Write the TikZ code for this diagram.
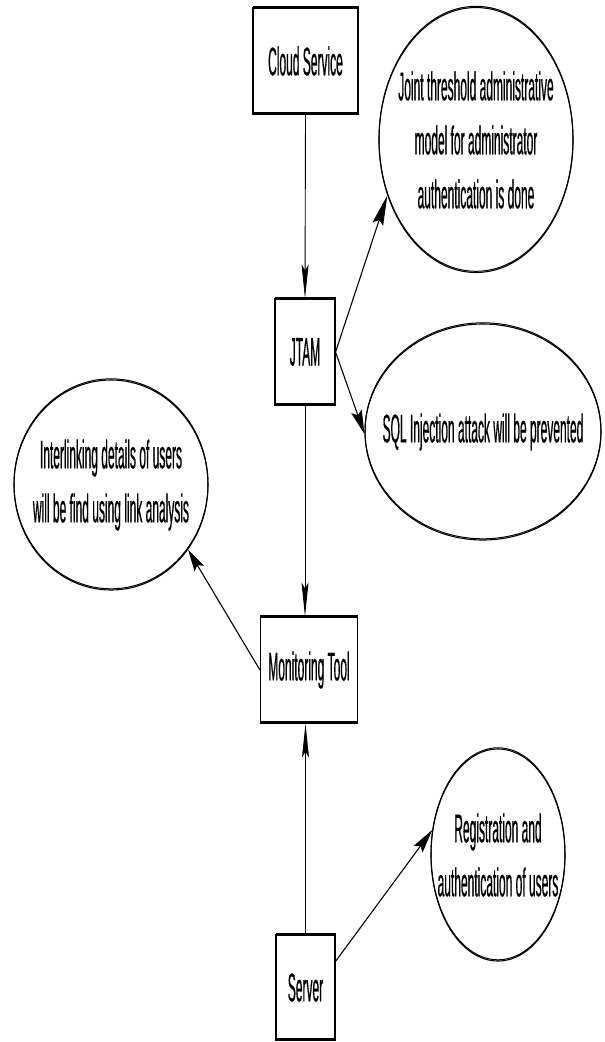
\documentclass[tikz,border=0pt]{standalone}
\usepackage{fontspec}
\setmainfont{Liberation Sans}[FakeStretch=0.30,FakeBold=0.4]
\usetikzlibrary{arrows.meta,shapes.geometric}
\begin{document}
\begin{tikzpicture}[x=1pt,y=-1pt,
  lbl/.style={font=\fontsize{40}{54}\selectfont, align=center, inner sep=0pt},
  rim/.style={postaction={draw,line width=1pt,transform canvas={yshift=1.2pt}}},
  box/.style={lbl, draw, rectangle, line width=1.1pt, rim},
  bubble/.style={draw, ellipse, inner sep=0pt, line width=1.1pt, rim},
  flow/.style={line width=0.9pt},
  vtip/.style={flow, -{Stealth[length=34pt,width=7pt,inset=6pt]}},
  dtip/.style={flow, line width=1.1pt, -{Stealth[length=#1,width=11pt,inset=4pt]}},
  ]
\useasboundingbox (0,0) rectangle (605,1042);

% process boxes
\node[box, minimum width=105, minimum height=106] (cloud)  at (305.5,61)   {Cloud Service};
\node[box, minimum width=60,  minimum height=106] (jtam)   at (305,352)    {JTAM};
\node[box, minimum width=97,  minimum height=106] (mon)    at (309,670)    {Monitoring Tool};
\node[box, minimum width=59,  minimum height=105] (server) at (305.5,987.5) {Server};

% outcome bubbles
\node[bubble, minimum width=194, minimum height=265] (e1) at (476,140) {};
\node[lbl] (e1t) at (e1) {Joint threshold administrative\\model for administrator\\authentication is done};
\node[bubble, minimum width=236, minimum height=216] (e2) at (483,432) {};
\node[lbl] (e2t) at (e2) {SQL Injection attack will be prevented};
\node[bubble, minimum width=194, minimum height=210] (e3) at (111,485) {};
\node[lbl] (e3t) at (e3) {Interlinking details of users\\will be find using link analysis};
\node[bubble, minimum width=134, minimum height=212] (e4) at (498,855) {};
\node[lbl] (e4t) at (e4) {Registration and\\authentication of users};

% main flow
\draw[vtip] (cloud.south) -- (jtam.north);
\draw[vtip] (jtam.south) -- (jtam.south |- mon.north);
\draw[vtip] (server.north) -- (server.north |- mon.south);

% side effects
\draw[dtip=30pt] (jtam.east) -- (e1.212);
\draw[dtip=24pt] (jtam.east) -- (e2.181);
\draw[dtip=22pt] (mon.west) -- (e3.-40);
\draw[dtip=24pt] (server.41) -- (e4.159);
\end{tikzpicture}
\end{document}
